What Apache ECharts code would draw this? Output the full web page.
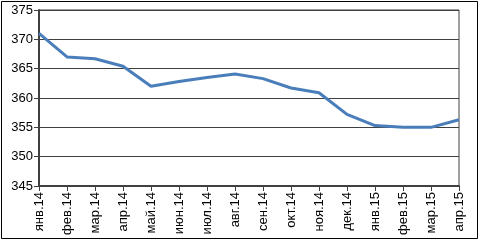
<!DOCTYPE html>
<html>
<head>
<meta charset="utf-8">
<script src="https://cdn.jsdelivr.net/npm/echarts@6/dist/echarts.min.js"></script>
<style>
  html, body { margin: 0; padding: 0; background: #fff; }
  #chart { width: 481px; height: 242px; }
</style>
</head>
<body>
<div id="chart"></div>
<script>
// месяцы и значения
const months = ['янв.14', 'фев.14', 'мар.14', 'апр.14', 'май.14', 'июн.14', 'июл.14', 'авг.14',
  'сен.14', 'окт.14', 'ноя.14', 'дек.14', 'янв.15', 'фев.15', 'мар.15', 'апр.15'];
const values = [371.0, 367.0, 366.7, 365.4, 362.0, 362.8, 363.5, 364.1,
  363.3, 361.7, 360.9, 357.2, 355.3, 355.0, 355.0, 356.3];

const chart = echarts.init(document.getElementById('chart'));

const option = {
  animation: false,
  textStyle: { fontFamily: 'Liberation Sans', color: '#000' },
  graphic: [
    {
      type: 'rect',
      shape: { x: 1.5, y: 1.5, width: 476, height: 237 },
      style: { fill: 'none', stroke: '#000', lineWidth: 1 },
      silent: true,
    },
  ],
  grid: {
    left: 39,
    right: 22,
    top: 10,
    bottom: 56,
    show: true,
    borderColor: '#404040',
    borderWidth: 1,
  },
  xAxis: {
    type: 'category',
    boundaryGap: false,
    data: months,
    axisLine: { lineStyle: { color: '#404040', width: 2 } },
    axisTick: { show: true, alignWithLabel: true, length: 5, lineStyle: { color: '#404040' } },
    axisLabel: { rotate: 90, fontSize: 13, color: '#000', margin: 6, interval: 0 },
  },
  yAxis: {
    type: 'value',
    min: 345,
    max: 375,
    interval: 5,
    axisLine: { show: true, lineStyle: { color: '#404040', width: 2 } },
    axisTick: { show: true, length: 5, lineStyle: { color: '#404040' } },
    axisLabel: { fontSize: 13, color: '#000', margin: 6 },
    splitLine: { lineStyle: { color: '#404040', width: 1 } },
  },
  series: [
    {
      type: 'line',
      data: values,
      symbol: 'none',
      lineStyle: { color: '#4a7ebb', width: 3 },
    },
  ],
};

chart.setOption(option);
</script>
</body>
</html>
